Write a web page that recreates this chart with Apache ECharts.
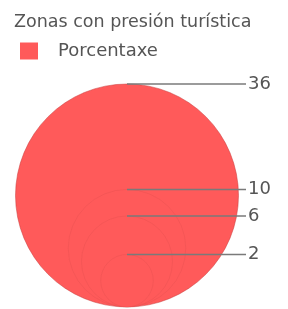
<!DOCTYPE html>
<html>
<head>
<meta charset="utf-8">
<script src="https://cdn.jsdelivr.net/npm/echarts@6/dist/echarts.min.js"></script>
<style>
html, body { margin: 0; padding: 0; background: #fff; }
#chart { width: 288px; height: 309px; }
</style>
</head>
<body>
<div id="chart"></div>
<script>
var titleText = 'Zonas con presión turística';
var seriesName = 'Porcentaxe';
var values = [36, 10, 6, 2];

var maxR = Math.sqrt(Math.max.apply(null, values));
var chart = echarts.init(document.getElementById('chart'));

function renderBubble(params, api) {
    var v = api.value(0);
    var r = Math.sqrt(v);
    var c = api.coord([0, r]);
    var rpx = api.size([0, r])[1];
    var top = c[1] - rpx;
    var sys = params.coordSys;
    var lineEnd = sys.x + sys.width + 6;
    return {
        type: 'group',
        children: [
            {
                type: 'circle',
                shape: { cx: c[0], cy: c[1], r: rpx },
                style: {
                    fill: '#ff5a5a',
                    stroke: params.dataIndex === 0 ? 'rgba(200,60,60,0.5)' : 'rgba(120,40,40,0.07)',
                    lineWidth: 1
                }
            },
            {
                type: 'line',
                shape: { x1: c[0], y1: top, x2: lineEnd, y2: top },
                style: { stroke: '#7a7a7a', lineWidth: 1.5 }
            },
            {
                type: 'text',
                x: lineEnd + 2,
                y: top,
                style: {
                    text: String(v),
                    fill: '#555',
                    font: '18px "DejaVu Sans"',
                    verticalAlign: 'middle',
                    align: 'left'
                }
            }
        ]
    };
}

var option = {
    animation: false,
    title: {
        text: titleText,
        left: 9,
        top: 8,
        textStyle: { fontSize: 17.5, fontWeight: 'normal', color: '#555', fontFamily: 'DejaVu Sans' }
    },
    legend: {
        data: [seriesName],
        left: 15,
        top: 37,
        icon: 'rect',
        itemWidth: 18,
        itemHeight: 17,
        textStyle: { fontSize: 18, color: '#555', fontFamily: 'DejaVu Sans', padding: [0, 0, 0, 15] }
    },
    grid: { left: 14, right: 48, top: 84, bottom: 2 },
    xAxis: { type: 'value', min: -1, max: 1, show: false },
    yAxis: { type: 'value', min: 0, max: 2 * maxR, show: false },
    series: [
        {
            name: seriesName,
            type: 'custom',
            coordinateSystem: 'cartesian2d',
            itemStyle: { color: '#ff5a5a' },
            renderItem: renderBubble,
            encode: { y: 0 },
            data: values.map(function (v) { return [v]; })
        }
    ]
};

chart.setOption(option);
</script>
</body>
</html>
